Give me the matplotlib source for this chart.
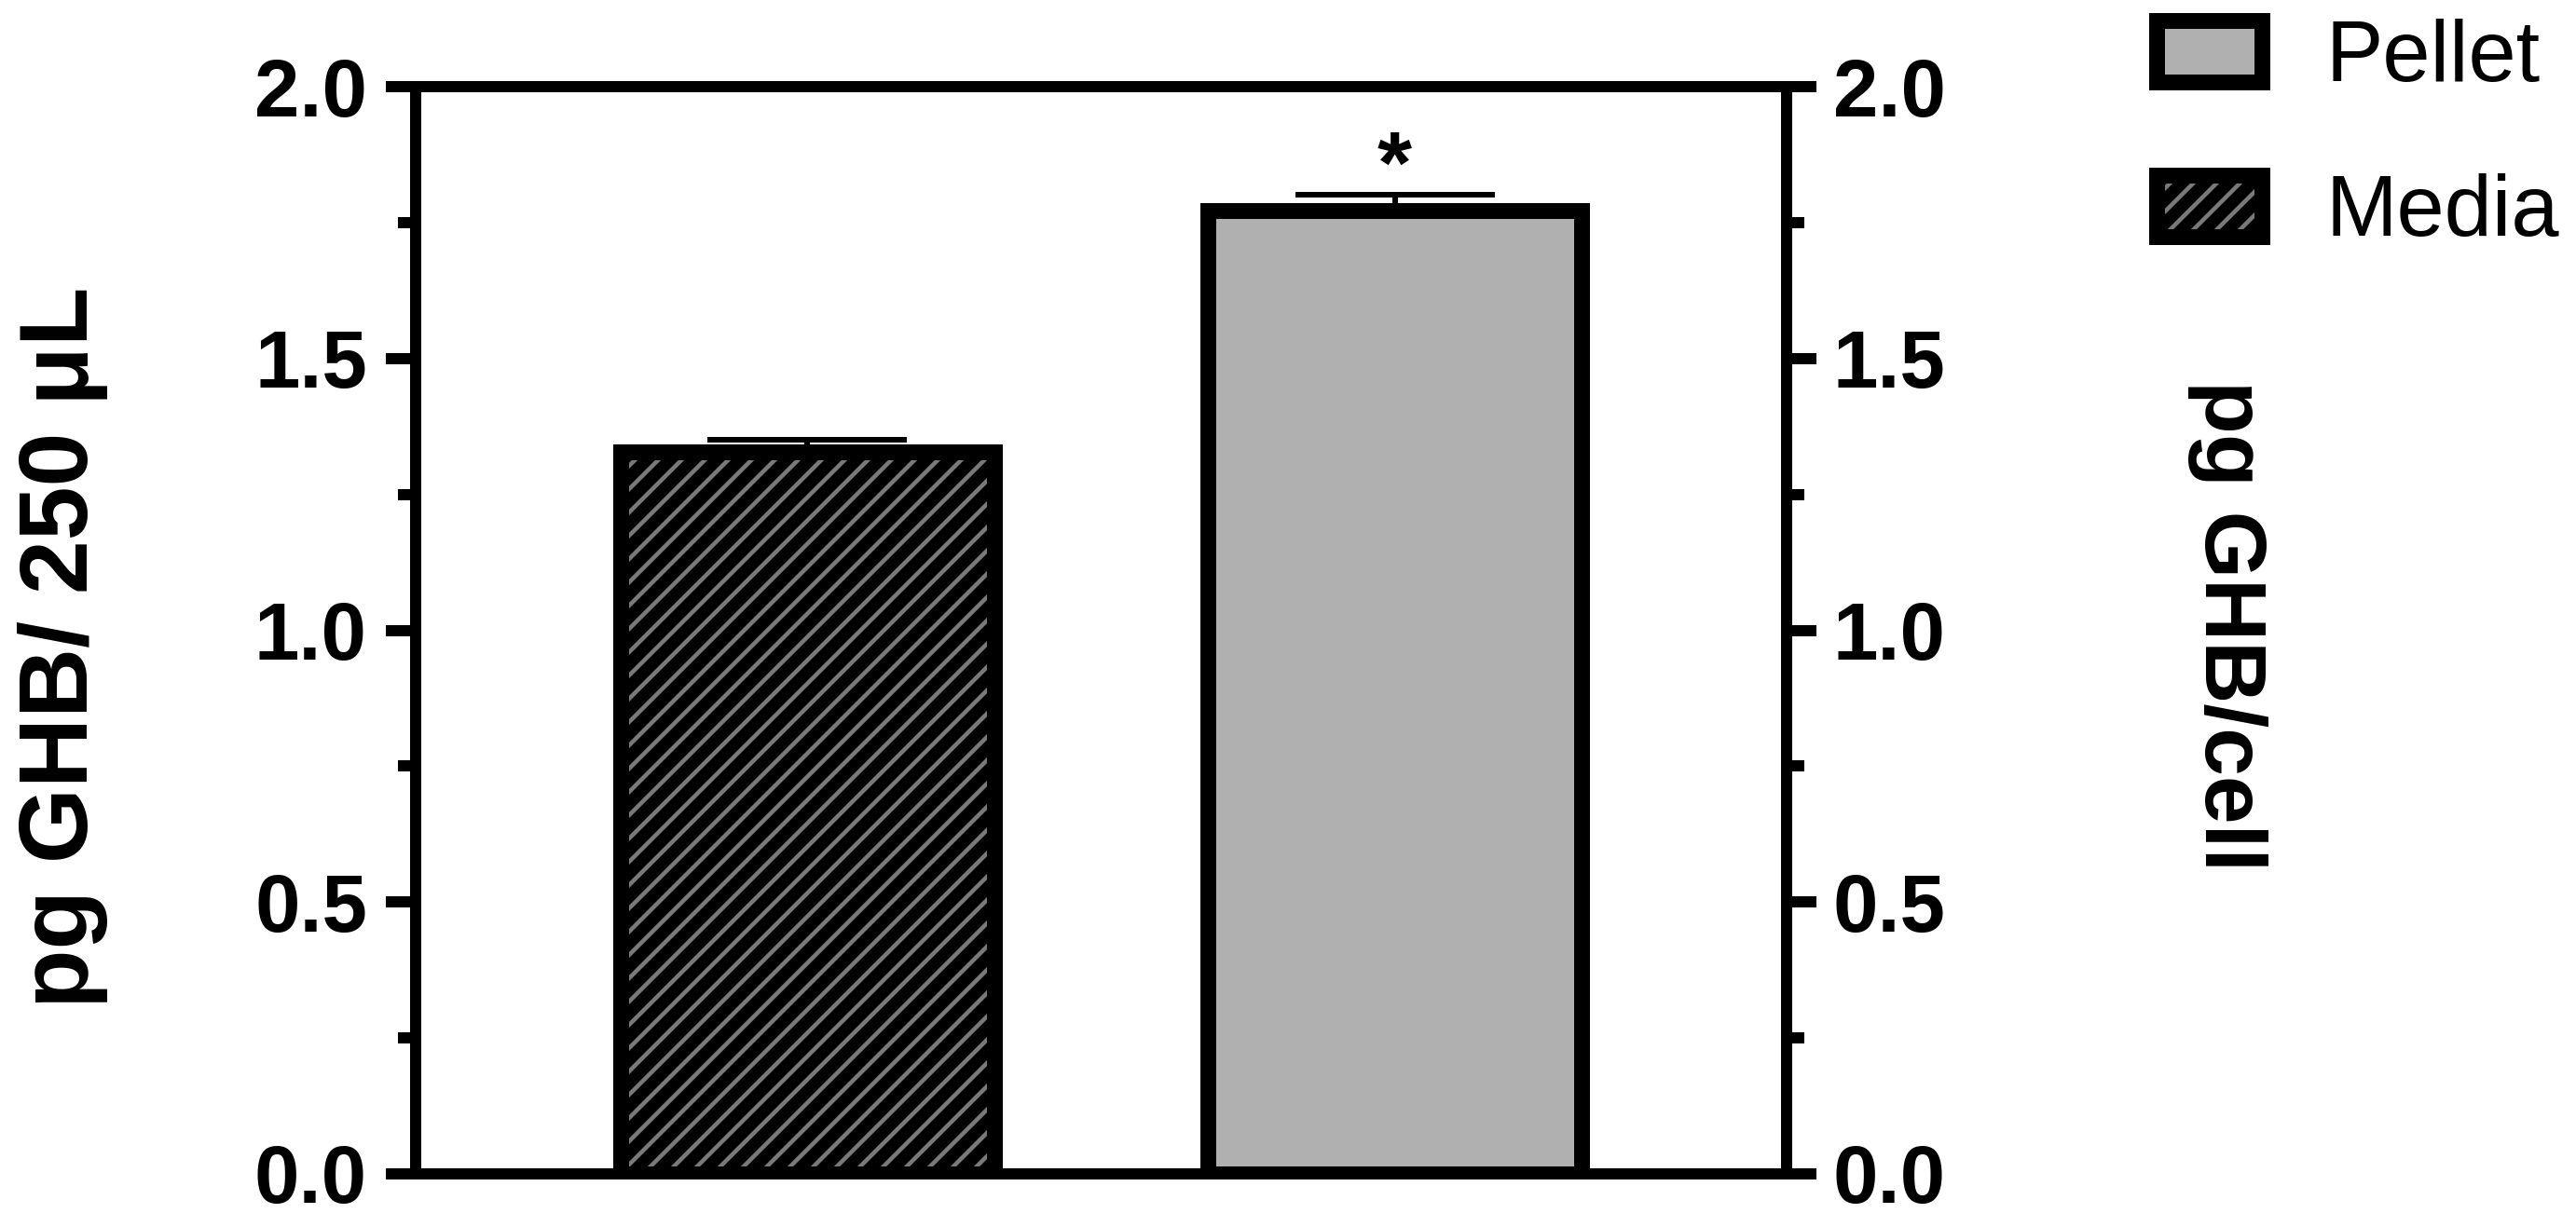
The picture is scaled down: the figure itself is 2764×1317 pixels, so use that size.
import matplotlib
matplotlib.use('Agg')
import matplotlib.pyplot as plt
from matplotlib.legend_handler import HandlerTuple

# ---- data ----
categories = ['Media', 'Pellet']
values = [1.328, 1.772]
errors = [0.022, 0.029]
yticks = [0.0, 0.5, 1.0, 1.5, 2.0]
ytick_labels = ['0.0', '0.5', '1.0', '1.5', '2.0']
yticks_minor = [0.25, 0.75, 1.25, 1.75]
left_label = 'pg GHB/ 250 μL'
right_label = 'pg GHB/cell'
sig_marks = ['', '*']
legend_labels = ['Pellet', 'Media']

DPI = 150
W, H = 2764, 1317


def px(v):
    """pixels -> points"""
    return v * 72.0 / DPI


plt.rcParams['font.family'] = ['Liberation Sans', 'DejaVu Sans']
plt.rcParams['hatch.linewidth'] = px(4.5)

fig = plt.figure(figsize=(W / DPI, H / DPI), dpi=DPI)
ax = fig.add_axes([446 / W, 1 - 1260 / H, (1917 - 446) / W, (1260 - 93) / H])

x = [0, 1]
w = 0.636
edge_lw = px(17)

media_fill = ax.bar(x[0], values[0], width=w, color='black', edgecolor='#7a7a7a',
                    hatch='//', linewidth=0, zorder=2)
media_edge = ax.bar(x[0], values[0], width=w, facecolor='none', edgecolor='black',
                    linewidth=edge_lw, zorder=3)
pellet = ax.bar(x[1], values[1], width=w, color='#b0b0b0', edgecolor='black',
                linewidth=edge_lw, zorder=3)

ax.errorbar(x, values, yerr=[[0, 0], errors], fmt='none', ecolor='black',
            elinewidth=px(6), capsize=px(107), capthick=px(6), zorder=1)

for xi, v, e, m in zip(x, values, errors, sig_marks):
    if m:
        ax.annotate(m, xy=(xi, v + e), xytext=(0, px(2)), textcoords='offset points',
                    ha='center', va='baseline', fontsize=px(95), fontweight='bold')

ax.set_xlim(-0.667, 1.667)
ax.set_xticks([])
ax.set_ylim(0, 2.0)

ax2 = ax.twinx()
ax2.set_ylim(0, 2.0)

for a, pad in ((ax, px(20)), (ax2, px(18))):
    a.set_yticks(yticks)
    a.set_yticklabels(ytick_labels, fontsize=px(87), fontweight='bold')
    a.set_yticks(yticks_minor, minor=True)
    a.tick_params(axis='y', which='major', direction='out', length=px(32), width=px(12), pad=pad)
    a.tick_params(axis='y', which='minor', direction='out', length=px(19), width=px(12))
    for s in a.spines.values():
        s.set_linewidth(px(12))

fig.text(68 / W, 1 - 695 / H, left_label, rotation=90, ha='center', va='center',
         fontsize=px(104), fontweight='bold')
fig.text(2390 / W, 1 - 672 / H, right_label, rotation=-90, ha='center', va='center',
         fontsize=px(93), fontweight='bold')

fig.legend(handles=[pellet.patches[0], (media_fill.patches[0], media_edge.patches[0])],
           labels=legend_labels,
           handler_map={tuple: HandlerTuple(ndivide=1, pad=0)},
           loc='upper left', bbox_to_anchor=(2314 / W, 1 - 20 / H),
           frameon=False, borderpad=0, borderaxespad=0,
           prop={'size': px(92), 'weight': 'normal'},
           handlelength=1.23, handleheight=0.72, handletextpad=0.74, labelspacing=0.87)

fig.savefig('out.png', dpi=DPI)
